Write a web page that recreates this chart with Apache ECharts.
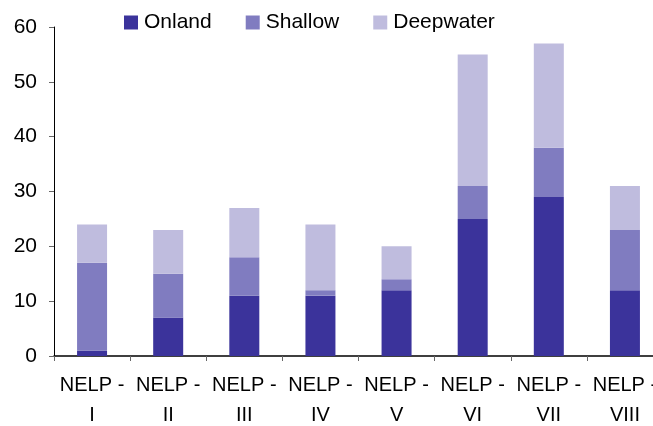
<!DOCTYPE html>
<html><head><meta charset="utf-8">
<script src="https://cdn.jsdelivr.net/npm/echarts@6/dist/echarts.min.js"></script>
<style>html,body{margin:0;padding:0;background:#fff}#c{width:653px;height:426px}</style>
</head><body><div id="c"></div>
<script>
const categories = ["NELP -\nI","NELP -\nII","NELP -\nIII","NELP -\nIV","NELP -\nV","NELP -\nVI","NELP -\nVII","NELP -\nVIII"];
const onland = [1, 7, 11, 11, 12, 25, 29, 12];
const shallow = [16, 8, 7, 1, 2, 6, 9, 11];
const deepwater = [7, 8, 9, 12, 6, 24, 19, 8];
const yTicks = [0, 10, 20, 30, 40, 50, 60];

const font = '"Liberation Sans", Arial, sans-serif';
const chart = echarts.init(document.getElementById('c'));
const mk = (name, data, color) => ({
  name, type: 'bar', stack: 'total', data, barWidth: 30,
  itemStyle: { color }, emphasis: { disabled: true }
});
chart.setOption({
  animation: false,
  grid: { left: 54, right: -10, top: 27, bottom: 70, outerBoundsMode: 'none', containLabel: false },
  legend: {
    top: 12, left: 124, padding: 0, itemWidth: 14, itemHeight: 14, itemGap: 34,
    icon: 'rect',
    textStyle: { fontFamily: font, fontSize: 21, color: '#000', padding: [0,0,0,1] },
    data: ['Onland', 'Shallow', 'Deepwater']
  },
  xAxis: {
    type: 'category', data: categories,
    axisLine: { lineStyle: { color: '#000', width: 1.5 } },
    axisTick: { show: true, length: 5, lineStyle: { color: '#666' } },
    axisLabel: { fontFamily: font, fontSize: 20, color: '#000', margin: 14, lineHeight: 30, interval: 0 }
  },
  yAxis: {
    type: 'value', min: 0, max: 60, interval: 10,
    splitLine: { show: false },
    axisLine: { show: true, lineStyle: { color: '#000', width: 1 } },
    axisTick: { show: true, length: 5, lineStyle: { color: '#666' } },
    axisLabel: { fontFamily: font, fontSize: 21, color: '#000', margin: 17,
      formatter: v => yTicks.includes(v) ? String(v) : '' }
  },
  series: [
    mk('Onland', onland, '#3b339b'),
    mk('Shallow', shallow, '#807cc0'),
    mk('Deepwater', deepwater, '#bfbcde')
  ]
});
</script></body></html>
